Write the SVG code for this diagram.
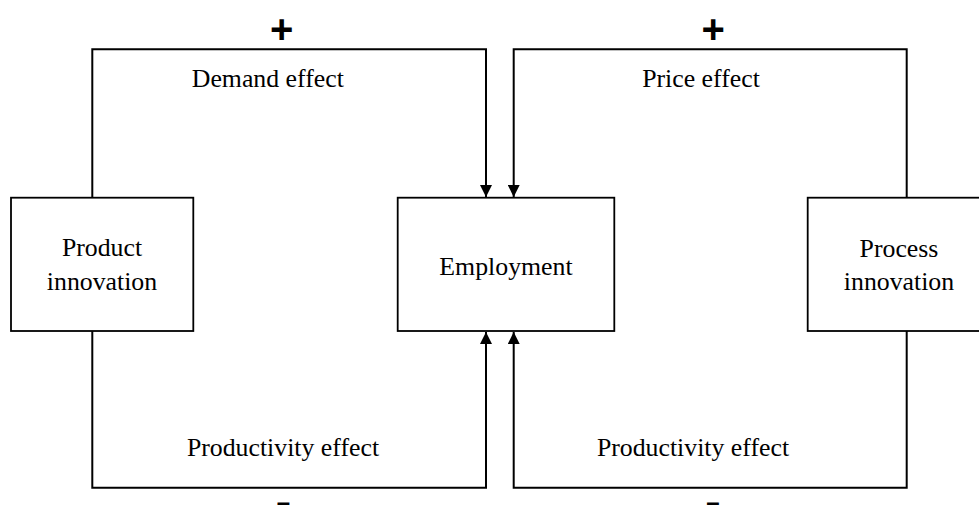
<svg xmlns="http://www.w3.org/2000/svg" width="979" height="508" viewBox="0 0 979 508">
<defs>
<style>
.box{fill:#fff;stroke:#000;stroke-width:1.8}
.ln{fill:none;stroke:#000;stroke-width:2}
.t{font-family:"Liberation Serif","Times New Roman",serif;font-size:25.8px;fill:#000;text-anchor:middle}
.s{font-family:"Liberation Sans",Arial,sans-serif;fill:#000;text-anchor:middle}
</style>
<marker id="ah" viewBox="0 0 12 12" markerWidth="12" markerHeight="12" refX="12" refY="6" orient="auto" markerUnits="userSpaceOnUse">
<path d="M0,0 L12,6 L0,12 Z" fill="#000"/>
</marker>
</defs>
<rect width="979" height="508" fill="#fff"/>
<g id="connectors">
<path class="ln" d="M92.3,197.7 V49.3 H486 V197" marker-end="url(#ah)"/>
<path class="ln" d="M92.3,331 V487.7 H486 V332" marker-end="url(#ah)"/>
<path class="ln" d="M906.7,197.7 V49.3 H513.7 V197" marker-end="url(#ah)"/>
<path class="ln" d="M906.7,331 V487.7 H513.7 V332" marker-end="url(#ah)"/>
</g>
<g id="labels">
<text class="t" x="267.8" y="87.3">Demand effect</text>
<text class="t" x="701" y="87.3">Price effect</text>
<text class="t" x="283" y="455.7">Productivity effect</text>
<text class="t" x="693" y="455.7">Productivity effect</text>
<text class="s" x="281.7" y="42.5" font-size="40" font-weight="bold">+</text>
<text class="s" x="713.3" y="42.5" font-size="40" font-weight="bold">+</text>
<text class="s" x="283.5" y="510" font-size="24" font-weight="bold">–</text>
<text class="s" x="713" y="510" font-size="24" font-weight="bold">–</text>
</g>
<g id="product-innovation">
<rect class="box" x="11" y="197.7" width="182.3" height="133.3"/>
<text class="t" x="102" y="256">Product</text>
<text class="t" x="102" y="290">innovation</text>
</g>
<g id="employment">
<rect class="box" x="397.7" y="197.7" width="216.6" height="133.3"/>
<text class="t" x="506" y="274.7">Employment</text>
</g>
<g id="process-innovation">
<rect class="box" x="807.7" y="197.7" width="182.3" height="133.3"/>
<text class="t" x="899" y="257">Process</text>
<text class="t" x="899" y="290">innovation</text>
</g>
</svg>
